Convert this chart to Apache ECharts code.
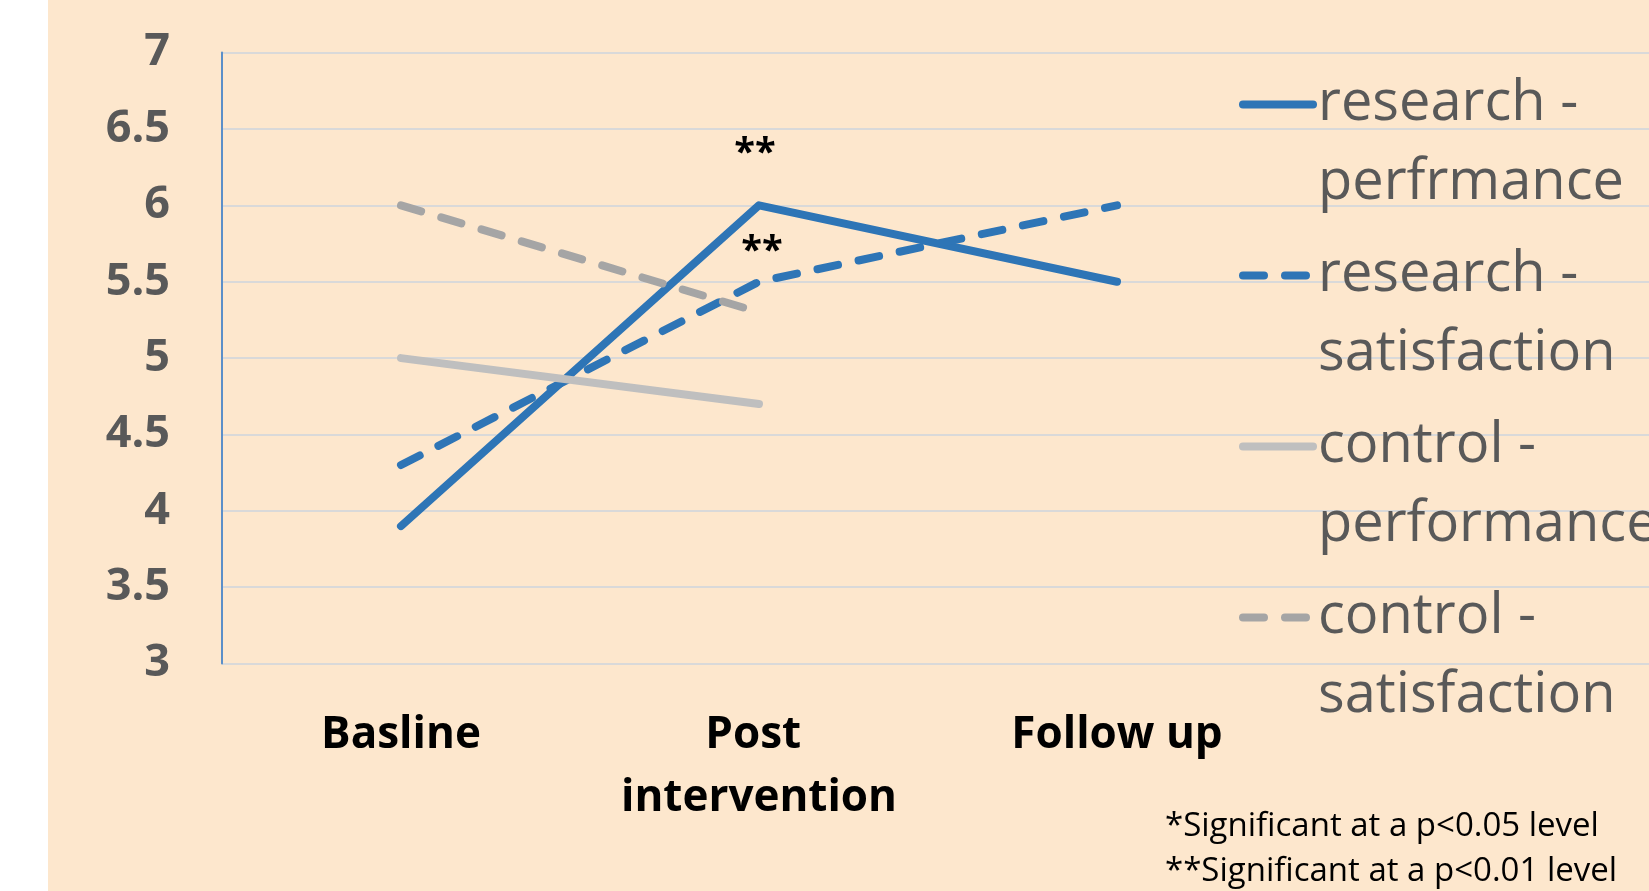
<!DOCTYPE html>
<html>
<head>
<meta charset="utf-8">
<script src="https://cdn.jsdelivr.net/npm/echarts@6/dist/echarts.min.js"></script>
<style>
  html, body { margin: 0; padding: 0; }
  body { background: linear-gradient(to right, #ffffff 0 48px, #FDE7CD 48px); }
  #chart { width: 1649px; height: 891px; }
</style>
</head>
<body>
<div id="chart"></div>
<script>
// Measurement points
const categories = ['Basline', 'Post intervention', 'Follow up'];

// Mean scores per group and measure
const researchPerformance = [3.9, 6.0, 5.5];
const researchSatisfaction = [4.3, 5.5, 6.0];
const controlPerformance = [5.0, 4.7];
const controlSatisfaction = [6.0, 5.3];

// Significance marks at each measurement point
const researchPerformanceSig = ['', '**', ''];
const researchSatisfactionSig = ['', '**', ''];

const footnote = '*Significant at a p<0.05 level\n**Significant at a p<0.01 level';

const FONT = '"Open Sans", "Noto Sans", sans-serif';
const BLUE = '#2E75B6';

function withMarks(values, marks, offset) {
  return values.map(function (v, i) {
    const m = marks && marks[i];
    if (!m) return v;
    return {
      value: v,
      symbol: 'circle',
      symbolSize: 2,
      label: {
        show: true,
        formatter: m,
        position: 'top',
        distance: offset[1],
        offset: [offset[0], 0],
        color: '#000',
        fontFamily: FONT,
        fontWeight: 'bold',
        fontSize: 38
      }
    };
  });
}

function lineSeries(name, data, color, dashed) {
  return {
    name: name,
    type: 'line',
    xAxisIndex: 0,
    yAxisIndex: 0,
    data: data,
    symbol: 'none',
    showSymbol: true,
    silent: true,
    z: 3,
    lineStyle: {
      color: color,
      width: 8,
      cap: 'round',
      join: 'round',
      type: dashed ? [21, 21] : 'solid'
    },
    itemStyle: { color: color }
  };
}

const chart = echarts.init(document.getElementById('chart'), null, { renderer: 'canvas' });

chart.setOption({
  animation: false,
  backgroundColor: 'transparent',
  title: {
    text: footnote,
    left: 1165,
    top: 804,
    padding: 0,
    textStyle: {
      fontFamily: FONT,
      fontWeight: 'normal',
      fontSize: 33,
      lineHeight: 45,
      color: '#000'
    }
  },
  legend: {
    orient: 'vertical',
    left: 1239,
    top: -14,
    padding: 0,
    itemGap: -66,
    itemWidth: 70,
    itemHeight: 14,
    selectedMode: false,
    itemStyle: { opacity: 0 },
    lineStyle: { width: 8, cap: 'round' },
    // an empty leading line keeps the icon level with the first text line
    formatter: function (name) { return '\n' + name.replace(' - ', ' -\n'); },
    textStyle: {
      fontFamily: FONT,
      fontSize: 56,
      lineHeight: 79,
      color: '#595959'
    }
  },
  grid: [
    { left: 222, right: 353, top: 52.6, bottom: 227.4, containLabel: false },
    { left: 222, right: 0, top: 52.6, bottom: 227.4, containLabel: false }
  ],
  xAxis: [
    {
      type: 'category',
      gridIndex: 0,
      data: categories,
      boundaryGap: true,
      axisLine: { show: false },
      axisTick: { show: false },
      splitLine: { show: false },
      axisLabel: {
        interval: 0,
        margin: 40,
        color: '#000',
        fontFamily: FONT,
        fontWeight: 'bold',
        fontSize: 44,
        lineHeight: 63,
        width: 330,
        overflow: 'break'
      }
    },
    {
      type: 'value',
      gridIndex: 1,
      show: false
    }
  ],
  yAxis: [
    {
      type: 'value',
      gridIndex: 0,
      min: 3,
      max: 7,
      interval: 0.5,
      axisLine: { show: true, lineStyle: { color: '#5B8FC9', width: 2 } },
      axisTick: { show: false },
      splitLine: { show: false },
      axisLabel: {
        margin: 52,
        color: '#595959',
        fontFamily: FONT,
        fontWeight: 'bold',
        fontSize: 45
      }
    },
    {
      type: 'value',
      gridIndex: 1,
      min: 3,
      max: 7,
      interval: 0.5,
      axisLine: { show: false },
      axisTick: { show: false },
      axisLabel: { show: false },
      splitLine: { show: true, lineStyle: { color: '#D9D9D9', width: 2 } }
    }
  ],
  series: [
    lineSeries('research - perfrmance', withMarks(researchPerformance, researchPerformanceSig, [-4, 31]), BLUE, false),
    lineSeries('research - satisfaction', withMarks(researchSatisfaction, researchSatisfactionSig, [3, 10]), BLUE, true),
    lineSeries('control - performance', controlPerformance, '#BFBFBF', false),
    lineSeries('control - satisfaction', controlSatisfaction, '#A5A5A5', true)
  ]
});
</script>
</body>
</html>
